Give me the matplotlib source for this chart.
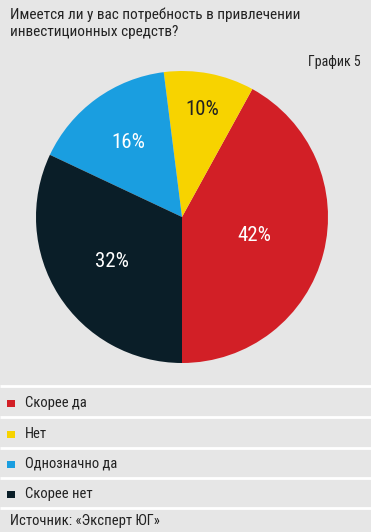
import matplotlib
matplotlib.use("Agg")
import matplotlib.pyplot as plt
import numpy as np

categories = ["Скорее да", "Нет", "Однозначно да", "Скорее нет"]
values = [42, 10, 16, 32]
colors = ["#d21f26", "#f7d300", "#1a9ee0", "#0a1e28"]
label_colors = ["white", "#222222", "white", "white"]
label_dist = [0.51, 0.75, 0.63, 0.57]

title = "Имеется ли у вас потребность в привлечении\nинвестиционных средств?"
chart_no = "График 5"
source = "Источник: «Эксперт ЮГ»"

FONT = ["Liberation Sans Narrow", "Roboto Condensed", "DejaVu Sans"]
plt.rcParams["font.family"] = FONT

W, H = 371, 532
fig = plt.figure(figsize=(W / 100, H / 100), dpi=100)
bg = "#e6e6e6"
fig.patch.set_facecolor(bg)

def fx(x): return x / W
def fy(y): return 1 - y / H

fig.text(fx(10), fy(7), title, ha="left", va="top", fontsize=11, color="#222222", linespacing=1.3)
fig.text(fx(361), fy(62), chart_no, ha="right", va="center", fontsize=10, color="#222222")

cx, cy, r = 182, 217, 146
ax = fig.add_axes([fx(cx - r), fy(cy + r), 2 * r / W, 2 * r / H])
ax.set_aspect("equal")
wedges, _ = ax.pie(values, colors=colors, startangle=-90, counterclock=True,
                   radius=1.0, wedgeprops=dict(linewidth=0))
for w, v, c, d in zip(wedges, values, label_colors, label_dist):
    ang = np.deg2rad((w.theta1 + w.theta2) / 2)
    ax.text(d * np.cos(ang), d * np.sin(ang), f"{v}%", ha="center", va="center",
            fontsize=15, color=c)
ax.set_xlim(-1, 1)
ax.set_ylim(-1, 1)
ax.axis("off")

# legend rows
lax = fig.add_axes([0, 0, 1, 1])
lax.set_xlim(0, W)
lax.set_ylim(H, 0)
lax.axis("off")
sep_y = [386, 417, 448, 478, 508]
for y in sep_y:
    lax.plot([0, W], [y, y], color="white", lw=2, solid_capstyle="butt")
row_y = [403, 434, 464, 494]
for cat, col, y in zip(categories, colors, row_y):
    lax.add_patch(plt.Rectangle((7, y - 3.5), 8, 7, color=col, lw=0))
    lax.text(25, y, cat, ha="left", va="center", fontsize=10.5, color="#222222")
lax.text(10, 521, source, ha="left", va="center", fontsize=10.5, color="#222222")

fig.savefig("out.png", dpi=100, facecolor=bg)
